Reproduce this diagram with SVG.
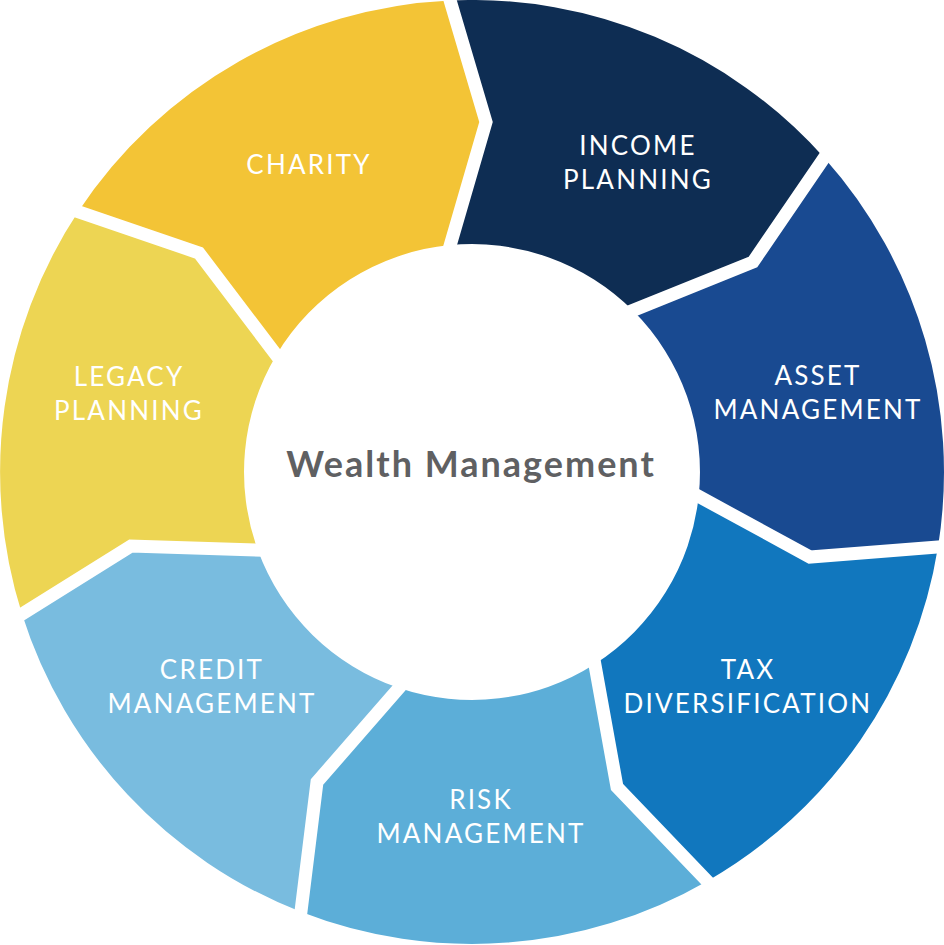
<svg xmlns="http://www.w3.org/2000/svg" width="944" height="945" viewBox="0 0 944 945">
<style>
.lbl{font-family:Lato,"Noto Sans","Liberation Sans",sans-serif;font-size:26px;fill:#ffffff;text-anchor:middle;letter-spacing:2.2px}
.ctr{font-family:Lato,"Noto Sans","Liberation Sans",sans-serif;font-size:36px;font-weight:bold;fill:#5f6062;text-anchor:middle;letter-spacing:2px}
.sep{fill:none;stroke:#ffffff;stroke-width:13;stroke-linejoin:miter}
</style>
<rect width="944" height="945" fill="#ffffff"/>
<g id="charity">
<path d="M78.3,211.6 A472,472 0 0 1 450,0.5 L486,122 L449.9,245.1 A228,228 0 0 0 276.1,355.4 L199,253 Z" fill="#f3c436"/>
<text class="lbl" x="309" y="174">CHARITY</text>
</g>
<g id="income-planning">
<path d="M450,0.5 A472,472 0 0 1 824.2,157.8 L753,262 L633.2,310.8 A228,228 0 0 0 449.9,245.1 L486,122 Z" fill="#0e2d53"/>
<text class="lbl" x="638" y="155">INCOME</text>
<text class="lbl" x="638" y="189">PLANNING</text>
</g>
<g id="asset-management">
<path d="M824.2,157.8 A472,472 0 0 1 938,547 L810,557 L698.7,496.1 A228,228 0 0 0 633.2,310.8 L753,262 Z" fill="#194a91"/>
<text class="lbl" x="818" y="385">ASSET</text>
<text class="lbl" x="818" y="419">MANAGEMENT</text>
</g>
<g id="tax-diversification">
<path d="M938,547 A472,472 0 0 1 707.1,881.2 L617,787 L594.5,664.2 A228,228 0 0 0 698.7,496.1 L810,557 Z" fill="#1177be"/>
<text class="lbl" x="748" y="679">TAX</text>
<text class="lbl" x="748" y="713">DIVERSIFICATION</text>
</g>
<g id="risk-management">
<path d="M707.1,881.2 A472,472 0 0 1 300.7,911.8 L317,782 L398.4,687.8 A228,228 0 0 0 594.5,664.2 L617,787 Z" fill="#5caed8"/>
<text class="lbl" x="481" y="809">RISK</text>
<text class="lbl" x="481" y="843">MANAGEMENT</text>
</g>
<g id="credit-management">
<path d="M300.7,911.8 A472,472 0 0 1 22,614 L131,546 L257.8,550.1 A228,228 0 0 0 398.4,687.8 L317,782 Z" fill="#79bcdf"/>
<text class="lbl" x="212" y="679">CREDIT</text>
<text class="lbl" x="212" y="713">MANAGEMENT</text>
</g>
<g id="legacy-planning">
<path d="M22,614 A472,472 0 0 1 78.3,211.6 L199,253 L276.1,355.4 A228,228 0 0 0 257.8,550.1 L131,546 Z" fill="#edd553"/>
<text class="lbl" x="129" y="386">LEGACY</text>
<text class="lbl" x="129" y="420">PLANNING</text>
</g>
<g id="separators">
<polyline class="sep" points="445.7,-14.4 486,122 445.8,260.4"/>
<polyline class="sep" points="832.5,145.6 753,262 620,315.6"/>
<polyline class="sep" points="684.8,488.8 810,557 953,545.8"/>
<polyline class="sep" points="592.3,650.2 617,787 717.4,891.8"/>
<polyline class="sep" points="407.9,677.7 317,782 299.2,925.9"/>
<polyline class="sep" points="273,550.5 131,546 9.3,621.9"/>
<polyline class="sep" points="64.8,207.1 199,253 286.1,368"/>
</g>
<g id="center">
<text class="ctr" x="471" y="477">Wealth Management</text>
</g>
</svg>
